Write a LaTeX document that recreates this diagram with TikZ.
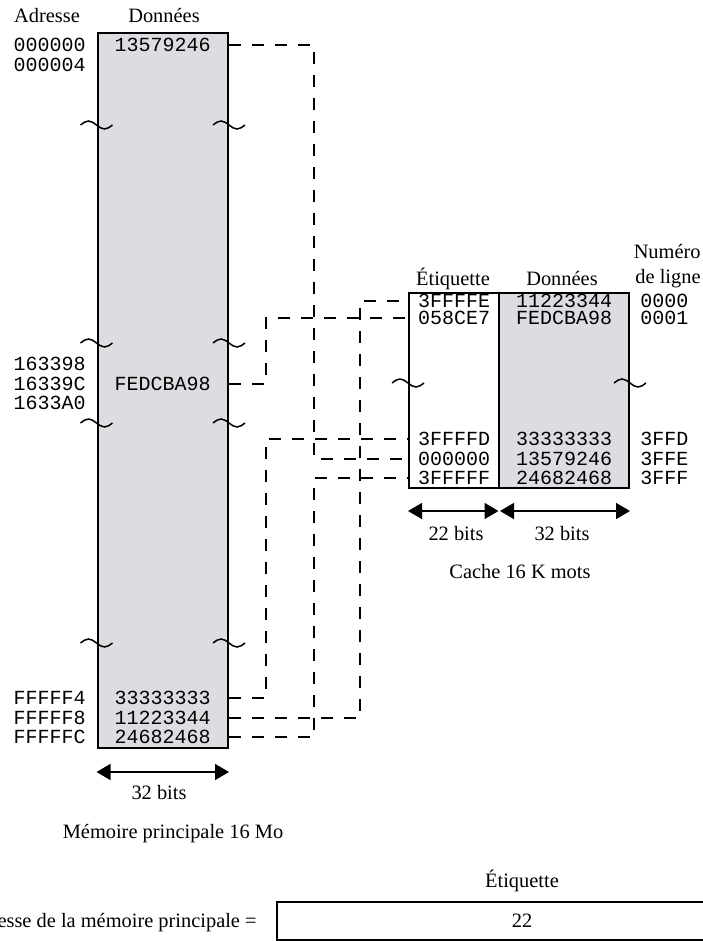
\documentclass[tikz,border=0pt]{standalone}
\usepackage{fontspec}
\setmainfont{Liberation Serif}
\setmonofont{Liberation Mono}
\usetikzlibrary{arrows.meta,positioning,calc}
\definecolor{memfill}{RGB}{220,221,224}

\begin{document}
\begin{tikzpicture}[x=0.5pt, y=-0.5pt,
      font=\fontsize{10.2}{12}\selectfont,
      word/.style={font=\fontsize{10}{12}\selectfont\ttfamily, inner sep=0pt},
      label text/.style={inner sep=0pt, anchor=base},
      colbox/.style={draw, line width=1pt, inner sep=0pt},
      link/.style={line width=0.85pt, dash pattern=on 6pt off 5.5pt},
      width arrow/.style={line width=0.75pt,
        {Triangle[length=7pt,width=8pt]}-{Triangle[length=7pt,width=8pt]}},
      brk/.pic={\draw[line width=0.75pt] (-16,0) sin (-8,-4) cos (0,0) sin (8,4) cos (16,0);}]
      \useasboundingbox (0,0) rectangle (702,941);

      % main memory
      \node[colbox, fill=memfill, minimum width=65.25pt, minimum height=357pt] (mem) at (162.75,390.5) {};
      \node[label text] (hAdr) at (47,23) {Adresse};
      \node[label text] (hMem) at (164,23) {Données};
      \node[word, anchor=east] (a0) at (86,45) {000000};
      \node[word, anchor=east] (a1) at (86,65) {000004};
      \node[word, anchor=east] (a2) at (86,364) {163398};
      \node[word, anchor=east] (a3) at (86,384) {16339C};
      \node[word, anchor=east] (a4) at (86,403) {1633A0};
      \node[word, anchor=east] (a5) at (86,698) {FFFFF4};
      \node[word, anchor=east] (a6) at (86,718) {FFFFF8};
      \node[word, anchor=east] (a7) at (86,737) {FFFFFC};
      \node[word] (d0) at (mem |- a0) {13579246};
      \node[word] (d1) at (mem |- a3) {FEDCBA98};
      \node[word] (d2) at (mem |- a5) {33333333};
      \node[word] (d3) at (mem |- a6) {11223344};
      \node[word] (d4) at (mem |- a7) {24682468};
      \pic at (mem.west |- 0,125) {brk};
      \pic at (mem.east |- 0,125) {brk};
      \pic at (mem.west |- 0,343) {brk};
      \pic at (mem.east |- 0,343) {brk};
      \pic at (mem.west |- 0,423) {brk};
      \pic at (mem.east |- 0,423) {brk};
      \pic at (mem.west |- 0,643) {brk};
      \pic at (mem.east |- 0,643) {brk};
      \coordinate (memdim) at (0,772);
      \draw[width arrow] (mem.west |- memdim) -- (mem.east |- memdim);
      \node[label text] (memw) at (159,799) {32 bits};
      \node[label text] (memcap) at (173,838) {Mémoire principale 16 Mo};

      % cache
      \node[colbox, minimum width=45pt, minimum height=97.5pt] (tagcol) at (454,390.5) {};
      \node[colbox, fill=memfill, minimum width=65pt, minimum height=97.5pt] (datcol) at (564,390.5) {};
      \node[label text] (hTag) at (453,285) {Étiquette};
      \node[label text] (hDat) at (562,285) {Données};
      \node[label text, anchor=base east] (hNum) at (701,258) {Numéro};
      \node[label text, anchor=base east] (hLig) at (701,283) {de ligne};
      \node[word] (t0) at (454,301) {3FFFFE};
      \node[word] (t1) at (454,318) {058CE7};
      \node[word] (t2) at (454,439) {3FFFFD};
      \node[word] (t3) at (454,459) {000000};
      \node[word] (t4) at (454,478) {3FFFFF};
      \node[word] (c0) at (datcol |- t0) {11223344};
      \node[word] (c1) at (datcol |- t1) {FEDCBA98};
      \node[word] (c2) at (datcol |- t2) {33333333};
      \node[word] (c3) at (datcol |- t3) {13579246};
      \node[word] (c4) at (datcol |- t4) {24682468};
      \node[word, anchor=west] (n0) at (640,301) {0000};
      \node[word, anchor=west] (n1) at (640,318) {0001};
      \node[word, anchor=west] (n2) at (640,439) {3FFD};
      \node[word, anchor=west] (n3) at (640,459) {3FFE};
      \node[word, anchor=west] (n4) at (640,478) {3FFF};
      \pic at (tagcol.west |- 0,383) {brk};
      \pic at (datcol.east |- 0,383) {brk};
      \coordinate (cachedim) at (0,511);
      \draw[width arrow, shorten >=0.75pt] (tagcol.west |- cachedim) -- (tagcol.east |- cachedim);
      \draw[width arrow, shorten <=1pt] (datcol.west |- cachedim) -- (datcol.east |- cachedim);
      \node[label text] (tagw) at (456,540) {22 bits};
      \node[label text] (datw) at (562,540) {32 bits};
      \node[label text] (cachecap) at (520,578) {Cache 16 K mots};

      % mapping
      \coordinate (ch1) at (266,0);
      \coordinate (ch2) at (314,0);
      \coordinate (ch3) at (360,0);
      \draw[link] (mem.east |- d0) -| (ch2 |- t3) -- (tagcol.west |- t3);
      \draw[link] (mem.east |- d1) -| (ch1 |- t1) -- (tagcol.west |- t1);
      \draw[link] (mem.east |- d2) -| (ch1 |- t2) -- (tagcol.west |- t2);
      \draw[link] (mem.east |- d3) -| (ch3 |- t0) -- (tagcol.west |- t0);
      \draw[link] (mem.east |- d4) -| (ch2 |- t4) -- (tagcol.west |- t4);

      % address format
      \node[label text, anchor=base east] (fmtlbl) at (257,927) {Adresse de la mémoire principale =};
      \node[colbox, minimum width=245pt, minimum height=19pt] (fmttag) at (522,921) {22};
      \node[label text] (fmthead) at (fmttag |- 0,887) {Étiquette};
    \end{tikzpicture}
\end{document}
